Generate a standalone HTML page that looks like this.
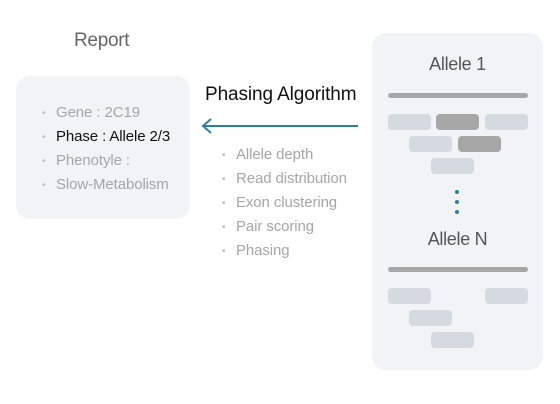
<!DOCTYPE html>
<html><head><style>
body{margin:0;width:560px;height:404px;background:#fff;font-family:"Liberation Sans",sans-serif;position:relative;overflow:hidden}
.a{position:absolute}
.t{position:absolute;white-space:nowrap;letter-spacing:-0.3px}
.b{position:absolute;height:16px;border-radius:4px;background:#d5d9e0}
.d{background:#a6a6a6}
.bar{position:absolute;left:388px;width:140px;height:5px;border-radius:3px;background:#a6a6a6}
.li{position:absolute;font-size:15px;color:#a6a6a6;white-space:nowrap;letter-spacing:-0.1px}
.li:before{content:"•";position:absolute;left:-14px;font-size:10px;color:#bbb;top:4px}
</style></head><body>
<div class="a" style="left:16px;top:76px;width:174px;height:143px;background:#f2f3f5;border-radius:14px"></div>
<div class="a" style="left:372px;top:33px;width:171px;height:337px;background:#f2f3f5;border-radius:14px"></div>
<div class="t" style="left:74px;top:30px;font-size:19px;color:#666">Report</div>
<div class="li" style="left:56px;top:104px">Gene : 2C19</div>
<div class="li" style="left:56px;top:128px;color:#111">Phase : Allele 2/3</div>
<div class="li" style="left:56px;top:152px">Phenotyle :</div>
<div class="li" style="left:56px;top:176px">Slow-Metabolism</div>
<div class="t" style="left:205px;top:84px;font-size:19px;color:#111;letter-spacing:-0.1px">Phasing Algorithm</div>
<svg class="a" style="left:198px;top:116px" width="164" height="20"><line x1="5" y1="10" x2="160" y2="10" stroke="#2e7fa0" stroke-width="2"/><polyline points="13,3 5,10 13,17" fill="none" stroke="#2e7fa0" stroke-width="2"/></svg>
<div class="li" style="left:236px;top:146px">Allele depth</div>
<div class="li" style="left:236px;top:170px">Read distribution</div>
<div class="li" style="left:236px;top:194px">Exon clustering</div>
<div class="li" style="left:236px;top:218px">Pair scoring</div>
<div class="li" style="left:236px;top:242px">Phasing</div>
<div class="t" style="left:372px;width:171px;text-align:center;top:54px;font-size:18px;color:#555">Allele 1</div>
<div class="bar" style="top:93px"></div>
<div class="b" style="left:388px;top:114px;width:43px"></div>
<div class="b d" style="left:436px;top:114px;width:43px"></div>
<div class="b" style="left:485px;top:114px;width:43px"></div>
<div class="b" style="left:409px;top:136px;width:43px"></div>
<div class="b d" style="left:458px;top:136px;width:43px"></div>
<div class="b" style="left:431px;top:158px;width:43px"></div>
<div class="a" style="left:455px;top:190px;width:4px;height:4px;border-radius:2px;background:#2e7fa0"></div>
<div class="a" style="left:455px;top:200px;width:4px;height:4px;border-radius:2px;background:#2e7fa0"></div>
<div class="a" style="left:455px;top:210px;width:4px;height:4px;border-radius:2px;background:#2e7fa0"></div>
<div class="t" style="left:372px;width:171px;text-align:center;top:229px;font-size:18px;color:#555">Allele N</div>
<div class="bar" style="top:267px"></div>
<div class="b" style="left:388px;top:288px;width:43px"></div>
<div class="b" style="left:485px;top:288px;width:43px"></div>
<div class="b" style="left:409px;top:310px;width:43px"></div>
<div class="b" style="left:431px;top:332px;width:43px"></div>
</body></html>
